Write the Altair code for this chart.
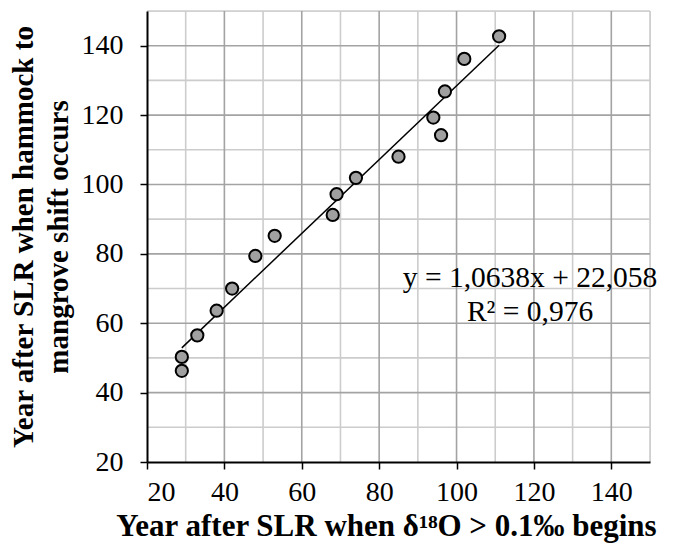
import altair as alt
import pandas as pd

# Data
onset_year = [29, 29, 33, 38, 42, 48, 53, 68, 69, 74, 85, 94, 96, 97, 102, 111]
shift_year = [50.3, 46.3, 56.5, 63.6, 70.0, 79.4, 85.2, 91.2, 97.2, 101.9, 108.0, 119.3, 114.2, 126.8, 136.2, 142.7]

slope = 1.0638
intercept = 22.058
r_squared = 0.976

tick_values = list(range(20, 151, 10))
major_grid = [v for v in tick_values if v % 20 == 0 and v > 20]
minor_grid = [v for v in tick_values if v % 20 != 0]

points = pd.DataFrame({"x": onset_year, "y": shift_year})
x_ends = [min(onset_year), max(onset_year)]
trend = pd.DataFrame({"x": x_ends, "y": [slope * v + intercept for v in x_ends]})
label_df = pd.DataFrame({
    "x": [119.0],
    "y": [73.0],
    "t": ["y = 1,0638x + 22,058\nR\u00b2 = 0,976"],
})
major_df = pd.DataFrame({"v": major_grid})
minor_df = pd.DataFrame({"v": minor_grid})

FONT = "Liberation Serif"

x_scale = alt.Scale(domain=[20, 150], nice=False, zero=False)
y_scale = alt.Scale(domain=[20, 150], nice=False, zero=False)

x_axis = alt.Axis(
    values=tick_values,
    labelExpr="datum.value % 20 === 0 && datum.value < 150 ? datum.label : ''",
    title="Year after SLR when \u03b4\u00b9\u2078O > 0.1\u2030 begins",
    grid=False,
    tickColor="black",
    tickSize=7,
    tickWidth=1.5,
    domainColor="black",
    domainWidth=2,
    labelFont=FONT,
    labelFontSize=28,
    labelColor="black",
    labelPadding=9,
    titleFont=FONT,
    titleFontSize=31,
    titleFontWeight="bold",
    titleColor="black",
    titlePadding=5,
    titleX=239,
    zindex=2,
)
y_axis = alt.Axis(
    values=tick_values,
    labelExpr="datum.value % 20 === 0 && datum.value < 150 ? datum.label : ''",
    title=["Year after SLR when hammock to", "mangrove shift occurs"],
    grid=False,
    tickColor="black",
    tickSize=7,
    tickWidth=1.5,
    domainColor="black",
    domainWidth=2,
    labelFont=FONT,
    labelFontSize=28,
    labelColor="black",
    labelPadding=17,
    titleFont=FONT,
    titleFontSize=29,
    titleFontWeight="bold",
    titleColor="black",
    titlePadding=8,
    titleLineHeight=35,
    zindex=2,
)

minor_x = alt.Chart(minor_df).mark_rule(color="#cccccc", strokeWidth=1.6).encode(
    x=alt.X("v:Q", scale=x_scale))
minor_y = alt.Chart(minor_df).mark_rule(color="#cccccc", strokeWidth=1.6).encode(
    y=alt.Y("v:Q", scale=y_scale))
major_x = alt.Chart(major_df).mark_rule(color="#a3a3a3", strokeWidth=1.6).encode(
    x=alt.X("v:Q", scale=x_scale))
major_y = alt.Chart(major_df).mark_rule(color="#a3a3a3", strokeWidth=1.6).encode(
    y=alt.Y("v:Q", scale=y_scale))

line = alt.Chart(trend).mark_line(color="black", strokeWidth=1.5).encode(
    x=alt.X("x:Q", scale=x_scale),
    y=alt.Y("y:Q", scale=y_scale),
)

base_points = alt.Chart(points).mark_point(
    shape="circle", filled=True, fill="#a0a0a0", stroke="black", strokeWidth=2, size=150, opacity=1
).encode(
    x=alt.X("x:Q", scale=x_scale, axis=x_axis),
    y=alt.Y("y:Q", scale=y_scale, axis=y_axis),
)

eq = alt.Chart(label_df).mark_text(
    font=FONT, fontSize=29.5, color="black", align="center", baseline="middle", lineBreak="\n", lineHeight=34
).encode(
    x=alt.X("x:Q", scale=x_scale),
    y=alt.Y("y:Q", scale=y_scale),
    text="t:N",
)

chart = alt.layer(minor_x, minor_y, major_x, major_y, line, base_points, eq).properties(
    width=503, height=451, padding={"left": 1, "top": 2, "right": 5, "bottom": 3}
).configure_view(stroke=None).configure(background="white")

chart.save("out.html", embed_options={"renderer": "svg", "actions": False})
